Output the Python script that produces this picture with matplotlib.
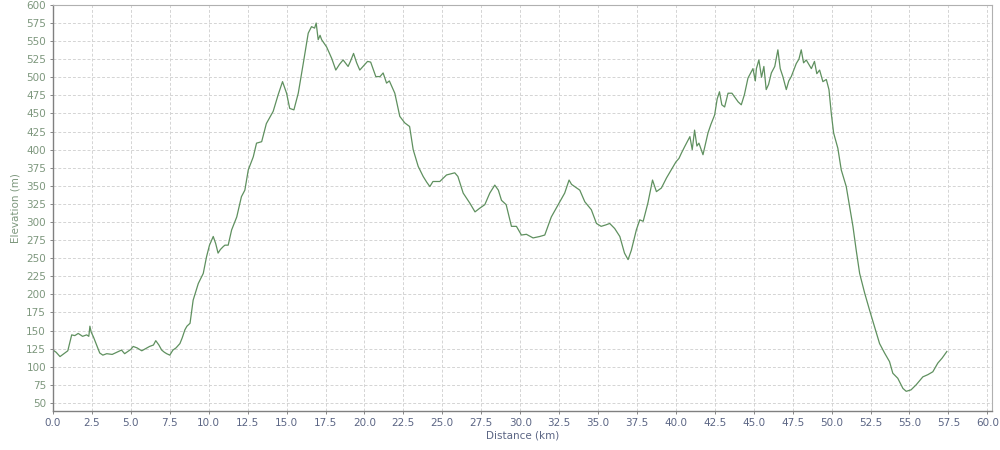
import matplotlib
matplotlib.use("Agg")
import matplotlib.pyplot as plt
from matplotlib.ticker import MultipleLocator, FormatStrFormatter


# distance (km) and elevation (m)
distance_km = [
    0.0, 0.2, 0.45, 0.7, 0.95, 1.2, 1.4, 1.62, 1.9, 2.16, 2.3, 2.37, 2.45, 2.6, 2.8,
    3.0, 3.2, 3.45, 3.8, 4.1, 4.4, 4.6, 4.8, 5.0, 5.15, 5.4, 5.7, 5.95, 6.2, 6.45,
    6.6, 6.8, 6.98, 7.15, 7.3, 7.5, 7.7, 7.9, 8.15, 8.3, 8.47, 8.6, 8.8, 9.0,
    9.33, 9.65, 9.86, 10.05, 10.29, 10.45, 10.6, 10.75, 10.93, 11.04, 11.25,
    11.47, 11.8, 12.1, 12.32, 12.54, 12.86, 13.07, 13.4, 13.7, 14.14, 14.46,
    14.74, 15.0, 15.2, 15.47, 15.75, 16.07, 16.39, 16.6, 16.8, 16.9, 17.03,
    17.15, 17.25, 17.57, 17.9, 18.16, 18.4, 18.63, 18.95, 19.1, 19.3, 19.5,
    19.7, 19.95, 20.2, 20.4, 20.55, 20.73, 21.0, 21.2, 21.42, 21.6, 21.95,
    22.27, 22.59, 22.9, 23.13, 23.45, 23.77, 24.0, 24.2, 24.4, 24.84, 25.27,
    25.8, 26.0, 26.34, 26.77, 27.1, 27.4, 27.73, 28.05, 28.37, 28.6, 28.8,
    29.1, 29.44, 29.76, 30.08, 30.4, 30.83, 31.26, 31.58, 32.0, 32.44, 32.86,
    33.14, 33.3, 33.5, 33.83, 34.15, 34.57, 34.9, 35.2, 35.5, 35.75, 36.07,
    36.4, 36.7, 36.93, 37.14, 37.46, 37.68, 37.9, 38.2, 38.5, 38.75, 39.07,
    39.4, 39.7, 40.0, 40.2, 40.35, 40.56, 40.9, 41.05, 41.2, 41.35, 41.48,
    41.74, 42.06, 42.25, 42.49, 42.65, 42.8, 42.95, 43.13, 43.35, 43.6, 44.0,
    44.2, 44.4, 44.63, 44.95, 45.1, 45.17, 45.33, 45.5, 45.65, 45.8, 45.95,
    46.13, 46.35, 46.55, 46.7, 46.87, 47.0, 47.09, 47.25, 47.41, 47.73, 47.9,
    48.05, 48.2, 48.37, 48.7, 48.9, 49.05, 49.23, 49.44, 49.66, 49.83, 49.98,
    50.13, 50.4, 50.62, 50.94, 51.16, 51.37, 51.58, 51.8, 52.12, 52.44, 52.76,
    53.08, 53.4, 53.72, 53.93, 54.25, 54.58, 54.79, 55.1, 55.43, 55.86, 56.18,
    56.5, 56.82, 57.1, 57.4,
]
elevation_m = [
    123, 120, 114, 118, 122, 144, 143, 146, 142, 144, 142, 156, 148, 141, 130,
    119, 116, 118, 117, 120, 123, 118, 121, 124, 128, 126, 122, 125, 128, 130,
    136, 130, 123, 120, 118, 116, 123, 126, 132, 140, 151, 156, 160, 192,
    215, 229, 252, 268, 280, 270, 257, 262, 266, 268, 268,
    289, 307, 335, 344, 372, 390, 409, 411, 436, 453, 476,
    494, 478, 457, 455, 478, 519, 561, 570, 568, 575, 552,
    558, 552, 542, 526, 510, 518, 524, 515, 522, 533, 520,
    510, 516, 522, 521, 512, 501, 501, 506, 492, 495, 478,
    446, 437, 432, 400, 377, 363, 355, 349, 356, 356, 365,
    368, 363, 340, 326, 314, 319, 324, 340, 351, 344, 330,
    324, 294, 294, 282, 283, 278, 280, 282, 307, 324, 340,
    358, 352, 349, 344, 328, 317, 298, 294, 296, 298, 291,
    280, 257, 248, 261, 289, 303, 301, 326, 358, 342, 347,
    361, 372, 383, 388, 395, 404, 418, 400, 427, 405, 409,
    393, 423, 435, 448, 470, 480, 462, 459, 478, 478, 466,
    462, 476, 499, 512, 495, 512, 524, 500, 515, 483, 490,
    506, 515, 538, 512, 501, 490, 483, 495, 501, 519, 525,
    538, 520, 524, 512, 522, 505, 510, 494, 497, 483, 450,
    423, 402, 372, 349, 321, 294, 261, 229, 202, 178, 155,
    132, 119, 107, 91, 84, 70, 66, 68, 75, 86, 89,
    93, 105, 112, 121,
]

LINE_COLOR = "#5f905f"
Y_TEXT = "#7d977d"
X_TEXT = "#5b6584"


def main():
    fig = plt.figure(figsize=(10, 4.5), dpi=100)
    ax = fig.add_axes([0.053, 0.087, 0.939, 0.902])

    ax.plot(distance_km, elevation_m, color=LINE_COLOR, linewidth=0.9)

    ax.set_xlim(0, 60.3)
    ax.set_ylim(39, 600)

    ax.xaxis.set_major_locator(MultipleLocator(2.5))
    ax.xaxis.set_major_formatter(FormatStrFormatter("%.1f"))
    ax.yaxis.set_major_locator(MultipleLocator(25))
    ax.set_yticks(range(50, 601, 25))

    ax.grid(True, color="#d4d4d4", linestyle=(0, (3, 2)), linewidth=0.7)

    ax.tick_params(axis="x", colors="#888888", labelcolor=X_TEXT, labelsize=7.5,
                   length=2, width=0.7, pad=3)
    ax.tick_params(axis="y", colors="#888888", labelcolor=Y_TEXT, labelsize=7.5,
                   length=2, width=0.7, pad=3)

    for side in ["left", "bottom"]:
        ax.spines[side].set_color("#808080")
        ax.spines[side].set_linewidth(1.0)
    for side in ["top", "right"]:
        ax.spines[side].set_color("#b0b0b0")
        ax.spines[side].set_linewidth(0.8)

    ax.set_xlabel("Distance (km)", color=X_TEXT, fontsize=7.5, labelpad=2)
    ax.set_ylabel("Elevation (m)", color=Y_TEXT, fontsize=7.5, labelpad=4)

    fig.savefig("out.png", dpi=100, facecolor="white")
    plt.close(fig)


if __name__ == "__main__":
    main()
